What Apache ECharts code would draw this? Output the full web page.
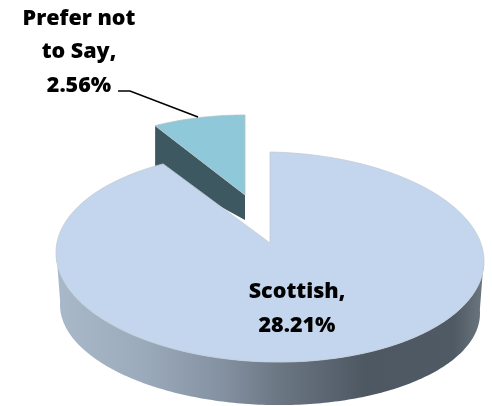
<!DOCTYPE html>
<html>
<head>
<meta charset="utf-8">
<style>html,body{margin:0;padding:0;background:#fff}#chart{width:492px;height:406px}</style>
<script src="https://cdn.jsdelivr.net/npm/echarts@6/dist/echarts.min.js"></script>
</head>
<body>
<div id="chart"></div>
<script>
// Ethnicity shares, as printed on the slices
const categories = ['Scottish', 'Prefer not\nto Say'];
const shares = [28.21, 2.56];

const total = shares.reduce((a, b) => a + b, 0);
const FONT = '"Open Sans", Lato, sans-serif';

// Tilted-disc projection of the main slice and its pulled-out neighbour
const disc = { cx: 270, cy: 257, rx: 214, ry: 105, apexY: 243, tilt: 0.02 };
const base = { cx: 270, cy: 309, rx: 210, ry: 96, tilt: 0.02 };
const pulled = { cx: 245, cy: 195, rx: 180, ry: 80, apexY: 195, tilt: 0, depth: 25, rimDepth: 45 };

function rimPoint(e, deg) {
  const a = deg * Math.PI / 180;
  const x = e.cx + e.rx * Math.sin(a);
  const y = e.cy - e.ry * Math.cos(a) + (x - e.cx) * e.tilt;
  return [x, y];
}
function rimArc(e, from, to) {
  const pts = [];
  const n = Math.max(2, Math.ceil(Math.abs(to - from)));
  for (let i = 0; i <= n; i++) pts.push(rimPoint(e, from + (to - from) * i / n));
  return pts;
}

function renderSlice(params, api) {
  const idx = params.dataIndex;
  const start = shares.slice(0, idx).reduce((a, b) => a + b, 0) / total * 360;
  const end = start + shares[idx] / total * 360;
  const children = [];

  if (idx === 0) {
    // outer wall along the front of the disc
    const wallTop = rimArc(disc, 88, Math.min(end, 272));
    const wallBottom = rimArc(base, Math.min(end, 272), 88);
    children.push({
      type: 'polygon',
      z2: 2,
      shape: { points: wallTop.concat(wallBottom) },
      style: {
        fill: {
          type: 'linear', x: 56, y: 0, x2: 484, y2: 0, global: true,
          colorStops: [
            { offset: 0, color: '#aab9ca' },
            { offset: 0.2, color: '#9cabbc' },
            { offset: 0.4, color: '#828f9f' },
            { offset: 0.52, color: '#6c7784' },
            { offset: 0.72, color: '#4e5863' },
            { offset: 0.93, color: '#505a64' },
            { offset: 1, color: '#6c7780' }
          ]
        }
      }
    });
    // top face
    children.push({
      type: 'polygon',
      z2: 3,
      shape: { points: [[disc.cx, disc.apexY]].concat(rimArc(disc, start, end)) },
      style: { fill: '#c3d6ed', stroke: '#c3cbd4', lineWidth: 0.8, lineJoin: 'round' }
    });
  } else {
    const arc = rimArc(pulled, start, end);
    const apex = [pulled.cx, pulled.apexY];
    const rimLeft = arc[0];
    // cut face seen through the gap, tucked behind the main disc
    children.push({
      type: 'polygon',
      z2: 0,
      shape: {
        points: [rimLeft, apex, [apex[0], apex[1] + pulled.depth], [rimLeft[0], rimLeft[1] + pulled.rimDepth]]
      },
      style: { fill: '#3d5860' }
    });
    children.push({
      type: 'polygon',
      z2: 1,
      shape: { points: [apex].concat(arc) },
      style: { fill: '#8fc8d9', stroke: '#b4c3c9', lineWidth: 0.8, lineJoin: 'round' }
    });
  }
  return { type: 'group', children };
}

// Text and leader line sit above both slices
function renderLabels(params, api) {
  const idx = params.dataIndex;
  const text = categories[idx] + ',\n' + shares[idx].toFixed(2) + '%';
  const anchor = idx === 0 ? [297, 309] : [79, 52];
  const children = [{
    type: 'text',
    x: anchor[0], y: anchor[1],
    style: {
      text, fill: '#000', font: '800 21.5px ' + FONT,
      align: 'center', verticalAlign: 'middle', lineHeight: 33.5
    }
  }];
  if (idx === 1) {
    children.push({
      type: 'polyline',
      shape: { points: [[118, 91], [130, 91], [198, 117]] },
      style: { stroke: '#000', lineWidth: 1.5, fill: 'none' }
    });
  }
  return { type: 'group', children };
}

const sliceData = shares.map((v, i) => ({ value: v, name: categories[i] }));

const chart = echarts.init(document.getElementById('chart'), null, { renderer: 'canvas' });
chart.setOption({
  animation: false,
  backgroundColor: '#ffffff',
  series: [
    { type: 'custom', coordinateSystem: 'none', renderItem: renderSlice, silent: true, data: sliceData, z: 1 },
    { type: 'custom', coordinateSystem: 'none', renderItem: renderLabels, silent: true, data: sliceData, z: 3 }
  ]
});
</script>
</body>
</html>
